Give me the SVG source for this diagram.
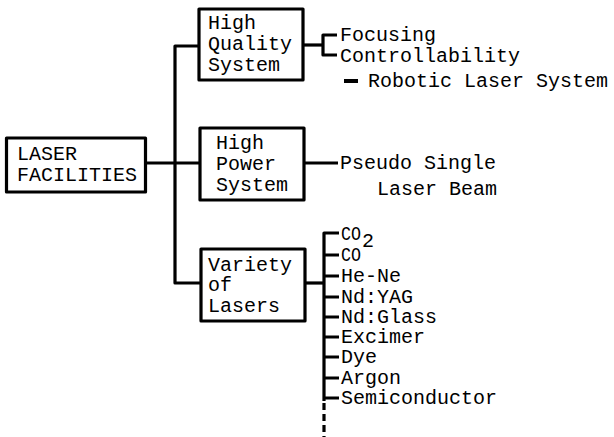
<svg xmlns="http://www.w3.org/2000/svg" width="614" height="437" viewBox="0 0 614 437">
<style>
.box{fill:#fff;stroke:#000;stroke-width:3.2;stroke-linejoin:round}
.ln{fill:none;stroke:#000;stroke-width:3.2;stroke-linecap:butt;stroke-linejoin:round}
text{font-family:"Courier New","Liberation Mono",monospace;font-size:20px;fill:#000}
</style>
<rect width="614" height="437" fill="#fff"/>
<g id="connectors">
<path class="ln" d="M146 163 H200"/>
<path class="ln" d="M199 46 H175 V283 H201"/>
<path class="ln" d="M303 45 H323"/>
<path class="ln" d="M337 35 H323 V55 H337"/>
<path class="ln" d="M344 81 H358" style="stroke-width:4"/>
<path class="ln" d="M304 163 H338"/>
<path class="ln" d="M305 283 H324"/>
<path class="ln" d="M339 233 H324 V401"/>
<path class="ln" d="M324 255 H339 M324 276 H339 M324 297 H339 M324 317 H339 M324 337 H339 M324 357 H339 M324 378 H339 M324 398 H339"/>
<path class="ln" d="M324 403 V437" style="stroke-dasharray:7 4"/>
</g>
<g id="laser-facilities">
<rect class="box" x="6.5" y="138" width="139" height="54"/>
<text x="17" y="160">LASER</text>
<text x="17" y="181">FACILITIES</text>
</g>
<g id="high-quality">
<rect class="box" x="199" y="9" width="104" height="71"/>
<text x="208" y="29">High</text>
<text x="208" y="50">Quality</text>
<text x="208" y="71">System</text>
</g>
<g id="high-power">
<rect class="box" x="200" y="128" width="104" height="72"/>
<text x="216" y="149">High</text>
<text x="216" y="170">Power</text>
<text x="216" y="191">System</text>
</g>
<g id="variety">
<rect class="box" x="201" y="249" width="104" height="72"/>
<text x="208" y="271">Variety</text>
<text x="208" y="291">of</text>
<text x="208" y="312">Lasers</text>
</g>
<g id="focusing"><text x="340" y="41">Focusing</text></g>
<g id="controllability"><text x="340" y="62">Controllability</text></g>
<g id="robotic"><text x="368" y="87">Robotic Laser System</text></g>
<g id="pseudo"><text x="340" y="169">Pseudo Single</text><text x="377" y="195">Laser Beam</text></g>
<g id="lasers">
<text x="341" y="240" textLength="20" lengthAdjust="spacingAndGlyphs">CO</text><text x="362" y="247">2</text>
<text x="341" y="261" textLength="20" lengthAdjust="spacingAndGlyphs">CO</text>
<text x="341" y="282">He-Ne</text>
<text x="341" y="303">Nd:YAG</text>
<text x="341" y="323">Nd:Glass</text>
<text x="341" y="343">Excimer</text>
<text x="341" y="363">Dye</text>
<text x="341" y="384">Argon</text>
<text x="341" y="404">Semiconductor</text>
</g>
</svg>
